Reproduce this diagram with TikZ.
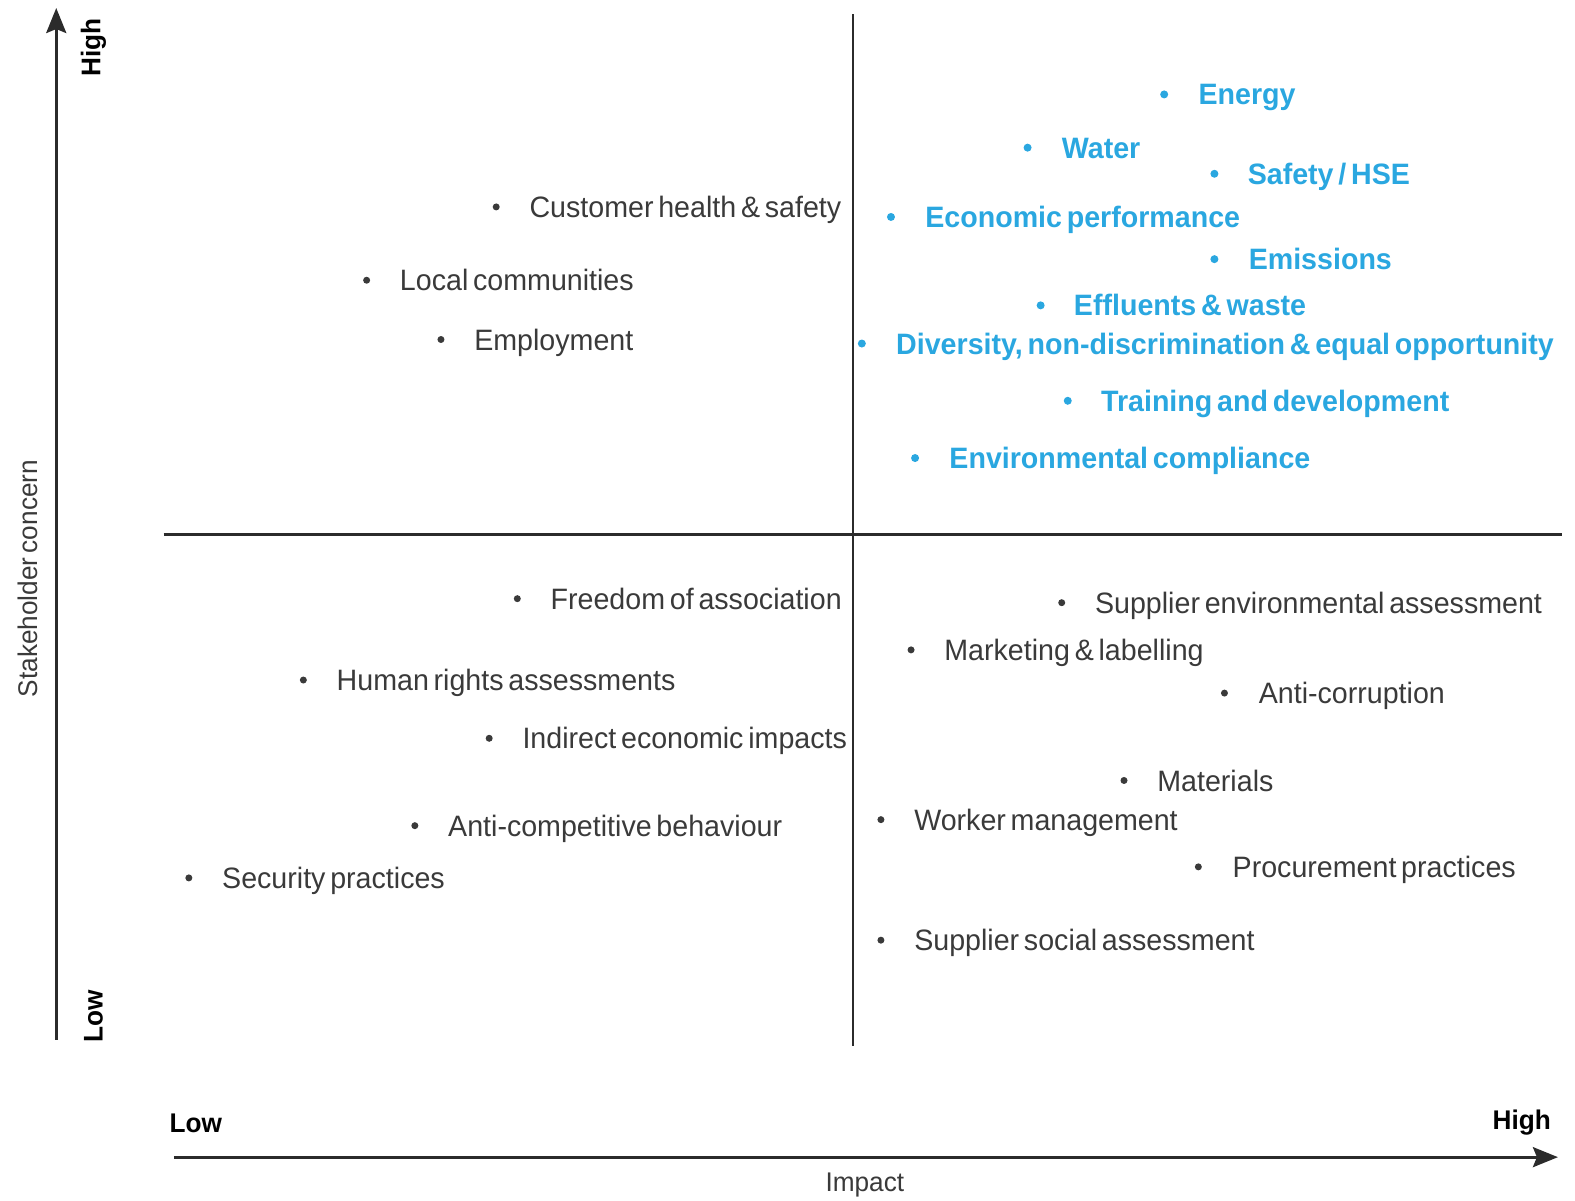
\documentclass[tikz,border=0pt]{standalone}
\usepackage{fontspec}
\setmainfont{Liberation Sans}[FakeStretch=0.97,WordSpace=0.6]
\usetikzlibrary{arrows.meta}
\definecolor{tgray}{HTML}{3A3A3A}
\definecolor{tblue}{HTML}{2AA7E0}
\definecolor{lgray}{HTML}{2B2B2B}
\newcommand\matpt[6]{%
  \node[#1dot] (#2d) at (#3,#5) {};
  \node[#1text] (#2) at (#4,#5+10.5) {#6};}
\begin{document}
\begin{tikzpicture}[x=1.0045pt,y=-1.0045pt,
  gtext/.style={anchor=base west, inner sep=0, text=tgray, font=\fontsize{29.5}{33}\selectfont},
  btext/.style={anchor=base west, inner sep=0, text=tblue, font=\fontsize{29.5}{33}\selectfont\bfseries},
  gdot/.style={circle, fill=tgray, inner sep=0, minimum size=7pt},
  bdot/.style={circle, fill=tblue, inner sep=0, minimum size=8pt},
  axis/.style={draw=lgray, line width=2.8pt, -{Stealth[length=25pt,width=20pt,inset=4pt]}},
  divider/.style={draw=lgray, line width=2.4pt},
  axlab/.style={inner sep=0, font=\fontsize{27}{30}\selectfont\bfseries, text=black},
  axtitle/.style={inner sep=0, font=\fontsize{27}{30}\selectfont, text=tgray}]
\useasboundingbox (0,0) rectangle (1568,1195);
% axes
\coordinate (ya0) at (56,1035);
\coordinate (ya1) at (56,8);
\coordinate (xa0) at (173,1152);
\coordinate (xa1) at (1551,1152);
\draw[axis] (ya0) -- (ya1);
\draw[axis] (xa0) -- (xa1);
% dividers
\coordinate (v0) at (849,14);
\coordinate (v1) at (849,1041);
\coordinate (h0) at (163,532);
\coordinate (h1) at (1555,532);
\draw[divider] (v0) -- (v1);
\draw[divider] (h0) -- (h1);
% axis labels
\node[axlab, rotate=90] (yhigh) at (93,47) {High};
\node[axlab, rotate=90] (ylow) at (93,1012) {Low};
\node[axtitle, rotate=90] (ytitle) at (28,576) {Stakeholder concern};
\node[axlab] (xlow) at (195,1118) {Low};
\node[axlab] (xhigh) at (1515,1118) {High};
\node[axtitle] (xtitle) at (861,1180) {Impact};
% gray items
\matpt{g}{chs}{494}{527}{206}{Customer health \& safety}
\matpt{g}{loc}{365}{398}{279}{Local communities}
\matpt{g}{emp}{439}{472}{338}{Employment}
\matpt{g}{foa}{515}{548}{596}{Freedom of association}
\matpt{g}{hra}{302}{335}{677}{Human rights assessments}
\matpt{g}{iei}{487}{520}{735}{Indirect economic impacts}
\matpt{g}{acb}{413}{446}{822}{Anti-competitive behaviour}
\matpt{g}{sec}{188}{221}{874}{Security practices}
\matpt{g}{sea}{1057}{1090}{600}{Supplier environmental assessment}
\matpt{g}{mkt}{907}{940}{647}{Marketing \& labelling}
\matpt{g}{acr}{1219}{1253}{690}{Anti-corruption}
\matpt{g}{mat}{1119}{1152}{777}{Materials}
\matpt{g}{wmg}{877}{910}{816}{Worker management}
\matpt{g}{prc}{1193}{1227}{863}{Procurement practices}
\matpt{g}{ssa}{877}{910}{936}{Supplier social assessment}
% blue items
\matpt{b}{ene}{1159}{1193}{94}{Energy}
\matpt{b}{wat}{1023}{1057}{147}{Water}
\matpt{b}{saf}{1209}{1242}{173}{Safety / HSE}
\matpt{b}{eco}{887}{921}{216}{Economic performance}
\matpt{b}{emi}{1209}{1243}{258}{Emissions}
\matpt{b}{eff}{1036}{1069}{304}{Effluents \& waste}
\matpt{b}{div}{858}{892}{342}{Diversity, non-discrimination \& equal opportunity}
\matpt{b}{trn}{1063}{1096}{399}{Training and development}
\matpt{b}{env}{911}{945}{456}{Environmental compliance}
\end{tikzpicture}
\end{document}
